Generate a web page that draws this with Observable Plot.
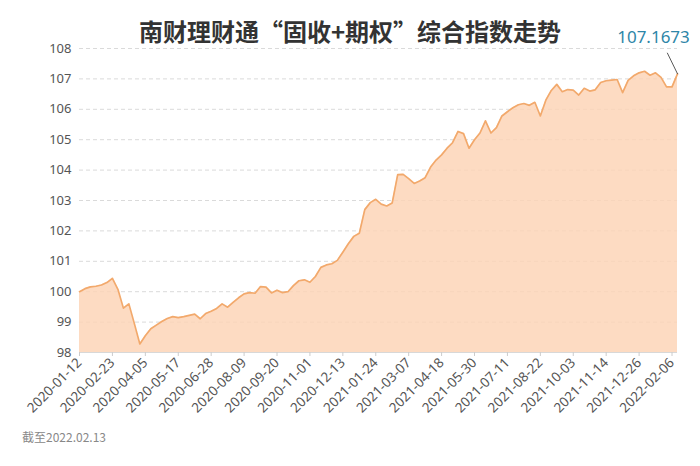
<!DOCTYPE html>
<html>
<head>
<meta charset="utf-8">
<script src="https://cdn.jsdelivr.net/npm/d3@7"></script>
<script src="https://cdn.jsdelivr.net/npm/@observablehq/plot@0.6"></script>
<style>
  html, body { margin: 0; padding: 0; background: #fff; }
  #wrap { position: relative; width: 700px; height: 466px; overflow: hidden; background: #fff; }
  #title { position: absolute; left: 0; width: 700px; top: 16px; text-align: center;
           font-family: "Noto Sans CJK SC", sans-serif; font-weight: 700; font-size: 24px;
           line-height: 30px; color: #333; }
  #note { position: absolute; left: 22px; top: 428px; font-family: "Noto Sans CJK SC", sans-serif;
          font-size: 12px; color: #888; line-height: 18px; }
</style>
</head>
<body>
<div id="wrap">
  <div id="chart"></div>
  <div id="title">南财理财通“固收+期权”综合指数走势</div>
  <div id="note">截至2022.02.13</div>
</div>
<script>
// Weekly index values, starting 2020-01-12, ending 2022-02-13
const startDate = "2020-01-12";
const values = [
  100.00, 100.10, 100.16, 100.18, 100.22, 100.30, 100.44, 100.08, 99.46, 99.60,
  98.95, 98.28, 98.55, 98.78, 98.90, 99.02, 99.12, 99.18, 99.15, 99.18,
  99.22, 99.26, 99.11, 99.28, 99.36, 99.45, 99.60, 99.49, 99.65, 99.80,
  99.93, 99.97, 99.95, 100.17, 100.15, 99.96, 100.05, 99.97, 100.00, 100.20,
  100.36, 100.39, 100.31, 100.50, 100.80, 100.88, 100.92, 101.03, 101.30, 101.58,
  101.82, 101.92, 102.70, 102.93, 103.04, 102.88, 102.82, 102.92, 103.85, 103.86,
  103.72, 103.56, 103.64, 103.75, 104.10, 104.33, 104.50, 104.72, 104.90, 105.27,
  105.20, 104.72, 105.00, 105.22, 105.62, 105.22, 105.40, 105.78, 105.92, 106.05,
  106.15, 106.19, 106.13, 106.23, 105.78, 106.30, 106.62, 106.82, 106.58, 106.65,
  106.63, 106.47, 106.69, 106.60, 106.64, 106.88, 106.94, 106.96, 106.98, 106.55,
  106.95, 107.10, 107.20, 107.25, 107.12, 107.20, 107.05, 106.74, 106.74, 107.1673
];
const tickLabels = [
  "2020-01-12", "2020-02-23", "2020-04-05", "2020-05-17", "2020-06-28", "2020-08-09",
  "2020-09-20", "2020-11-01", "2020-12-13", "2021-01-24", "2021-03-07", "2021-04-18",
  "2021-05-30", "2021-07-11", "2021-08-22", "2021-10-03", "2021-11-14", "2021-12-26",
  "2022-02-06"
];
const yTicks = [98, 99, 100, 101, 102, 103, 104, 105, 106, 107, 108];
const lastLabel = "107.1673";

const parse = d3.utcParse("%Y-%m-%d");
const t0 = parse(startDate);
const data = values.map((v, i) => ({date: d3.utcDay.offset(t0, 7 * i), value: v}));
const tickDates = tickLabels.map(parse);
const last = data[data.length - 1];

const lineShape = {
  draw(context, l) { context.moveTo(0, 0); context.lineTo(0, -l); }
};

const chart = Plot.plot({
  width: 700,
  height: 466,
  marginTop: 48,
  marginRight: 23,
  marginBottom: 114,
  marginLeft: 79,
  style: {fontFamily: "'Noto Sans', sans-serif", fontSize: "13px", color: "#555", background: "transparent"},
  x: {type: "utc", domain: [data[0].date, last.date], label: null},
  y: {domain: [98, 108], label: null},
  marks: [
    Plot.gridY(yTicks, {stroke: "#dadada", strokeOpacity: 1, strokeDasharray: "4,3"}),
    Plot.areaY(data, {x: "date", y1: 98, y2: "value", fill: "#fcd3b4", fillOpacity: 0.82}),
    Plot.lineY(data, {x: "date", y: "value", stroke: "#f2a96c", strokeWidth: 1.7}),
    Plot.ruleY([98], {stroke: "#d8d8d8"}),
    Plot.axisY(yTicks, {tickSize: 0, tickPadding: 8, fontSize: 13, fill: "#555", label: null}),
    Plot.axisX(tickDates, {tickSize: 4, stroke: "#ccc", tickRotate: -45, tickPadding: 4, fontSize: 13.5,
      fill: "#555", tickFormat: d3.utcFormat("%Y-%m-%d"), label: null}),
    Plot.vector([last], {x: "date", y: "value", length: 23, rotate: -26, anchor: "start",
      shape: lineShape, stroke: "#444", strokeWidth: 0.8}),
    Plot.text([last], {x: "date", y: "value", text: () => lastLabel, dx: -24, dy: -36,
      fill: "#2e86a8", fontSize: 17, fontFamily: "'Noto Sans', sans-serif"})
  ]
});
document.getElementById("chart").appendChild(chart);
</script>
</body>
</html>
